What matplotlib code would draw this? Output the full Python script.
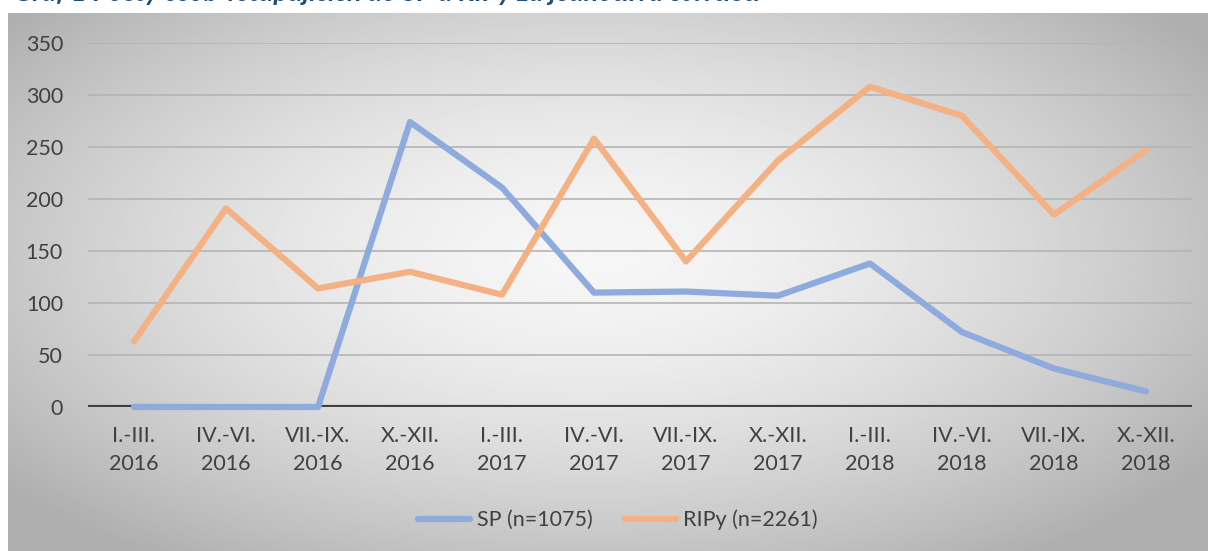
import numpy as np
import matplotlib
matplotlib.use("Agg")
import matplotlib.pyplot as plt

quarters = ["I.-III.\n2016", "IV.-VI.\n2016", "VII.-IX.\n2016", "X.-XII.\n2016",
            "I.-III.\n2017", "IV.-VI.\n2017", "VII.-IX.\n2017", "X.-XII.\n2017",
            "I.-III.\n2018", "IV.-VI.\n2018", "VII.-IX.\n2018", "X.-XII.\n2018"]
sp = [0, 0, 0, 274, 211, 110, 111, 107, 138, 72, 37, 15]
ripy = [63, 191, 114, 130, 108, 258, 140, 237, 308, 280, 185, 247]
yticks = [0, 50, 100, 150, 200, 250, 300, 350]

plt.rcParams["font.family"] = ["Lato", "DejaVu Sans"]

W, H = 1208, 551
fig = plt.figure(figsize=(W / 100, H / 100), dpi=100)
fig.patch.set_facecolor("white")

# radial grey background of the chart box
bg = fig.add_axes([8 / W, 0, 1 - 8 / W, (H - 13) / H], zorder=0)
gx, gy = np.meshgrid(np.linspace(-1, 1, 600), np.linspace(-1, 1, 300))
r = np.sqrt(((gx + 0.03) / 1.05) ** 2 + ((gy + 0.1) / 1.15) ** 2)
shade = 0.965 - 0.21 * np.clip(r, 0, 1.2) ** 1.6
bg.imshow(shade, cmap="gray", vmin=0, vmax=1, aspect="auto",
          extent=[0, 1, 0, 1], interpolation="bilinear")
bg.set_axis_off()

# clipped title at the very top
fig.text(0.012, 1 + 7 / H, "Graf 1 Počty osob vstupujících do SP a RIPy za jednotlivá čtvrtletí",
         color="#1f4e79", fontsize=19.5, fontweight="bold", fontstyle="italic",
         ha="left", va="center")

ax = fig.add_axes([88 / W, 1 - 407 / H, (1192 - 88) / W, (407 - 43) / H], zorder=1)
ax.patch.set_alpha(0)
x = np.arange(len(quarters))

for yv in yticks[1:]:
    ax.axhline(yv, color="#b4b4b4", lw=1.2, zorder=1)
ax.axhline(0, color="#404040", lw=3, zorder=2)

ax.plot(x, sp, color="#8faadc", lw=4.5, solid_capstyle="round",
        label="SP (n=1075)", zorder=3, clip_on=False)
ax.plot(x, ripy, color="#f4b183", lw=4.5, solid_capstyle="round",
        label="RIPy (n=2261)", zorder=3, clip_on=False)

ax.set_xlim(-0.5, len(quarters) - 0.5)
ax.set_ylim(0, 350)
ax.set_yticks(yticks)
ax.set_xticks(x)
ax.set_xticklabels(quarters, linespacing=1.45)
ax.tick_params(axis="both", length=0, labelsize=15.5, colors="#404040")
ax.tick_params(axis="y", pad=18)
ax.tick_params(axis="x", pad=14)
for s in ax.spines.values():
    s.set_visible(False)

leg = ax.legend(loc="center", bbox_to_anchor=(0.48, -0.31), ncol=2,
                frameon=False, fontsize=15.5, handlelength=2.4, handletextpad=0.3,
                columnspacing=1.5)
for t in leg.get_texts():
    t.set_color("#404040")

fig.savefig("out.png", dpi=100)
